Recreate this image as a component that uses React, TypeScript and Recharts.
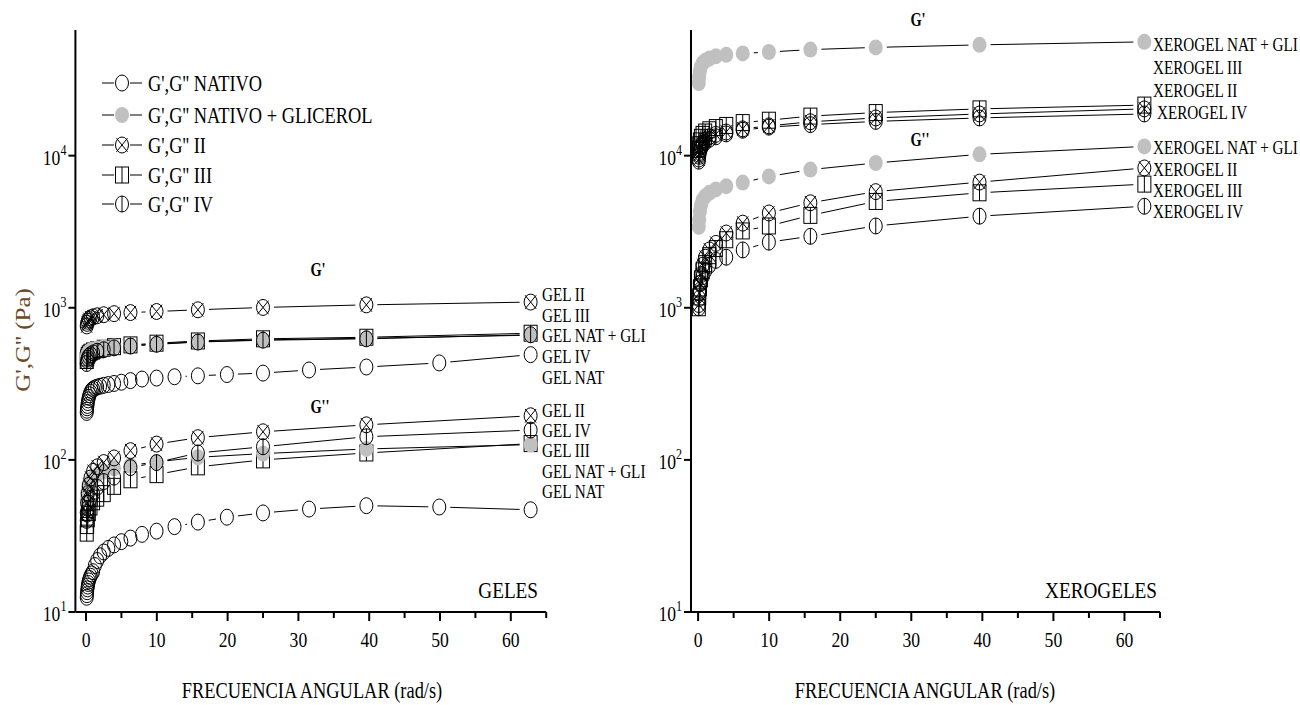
import React from 'react';
import { ScatterChart, Scatter, XAxis, YAxis } from 'recharts';

const SERIF = "'Liberation Serif', 'Times New Roman', serif";
const SQUEEZE = 0.8;

// angular frequency (rad/s)
const freq5 = [0.0996, 0.158, 0.25, 0.396, 0.628, 0.996, 1.58, 2.5, 3.96, 6.28, 9.96, 15.8, 25, 39.6, 62.8];
const freq10 = [
  0.0996, 0.125, 0.158, 0.199, 0.25, 0.315, 0.396, 0.499, 0.628, 0.791, 0.996, 1.25, 1.58, 1.99, 2.5,
  3.15, 3.96, 4.99, 6.28, 7.91, 9.96, 12.5, 15.8, 19.9, 25, 31.5, 39.6, 49.9, 62.8,
];

// GELES (Pa)
const gelNatG1 = [
  205, 212, 220, 228, 238, 248, 258, 268, 278, 286, 292, 297, 301, 305, 309,
  313, 318, 324, 332, 340, 345, 352, 357, 364, 372, 390, 408, 434, 492,
];
const gelNatG2 = [
  12.5, 13, 13.6, 14.2, 14.8, 15.4, 16, 16.6, 17.2, 17.8, 18.4, 20.2, 21.8, 23.4, 24.8,
  26.2, 27.6, 29, 30.6, 32.4, 34, 36.4, 39, 42, 44.8, 47.5, 50, 49, 47,
];
const gelGliG1 = [470, 485, 500, 512, 522, 532, 540, 548, 556, 565, 578, 598, 615, 630, 660];
const gelGliG2 = [55, 60, 64, 68, 72, 76, 80, 84, 88, 92, 97, 104, 110, 118, 126];
const gelIIG1 = [760, 790, 815, 838, 858, 872, 886, 900, 915, 930, 945, 970, 1005, 1045, 1090];
const gelIIG2 = [45, 52, 60, 68, 76, 84, 90, 96, 103, 115, 127, 140, 153, 170, 195];
const gelIIIG1 = [450, 468, 485, 498, 510, 520, 530, 542, 555, 570, 585, 605, 625, 640, 680];
const gelIIIG2 = [33, 37, 41, 45, 49, 53, 56, 60, 67, 74, 80, 90, 100, 111, 128];
const gelIVG1 = [430, 450, 466, 480, 492, 505, 518, 530, 545, 560, 575, 595, 612, 625, 665];
const gelIVG2 = [40, 44, 48, 52, 56, 60, 66, 72, 77, 89, 96, 111, 122, 142, 157];

// XEROGELES (Pa)
const xeroGliG1 = [30000, 33000, 36000, 38500, 40500, 42000, 43500, 45000, 46000, 47000, 48000, 49800, 51500, 53500, 56000];
const xeroGliG2 = [3400, 3800, 4300, 4700, 5100, 5400, 5700, 6000, 6300, 6650, 7300, 8100, 8950, 10200, 11500];
const xeroIIG1 = [9500, 10200, 10900, 11500, 12100, 12700, 13300, 13800, 14300, 15000, 15700, 16700, 17700, 18800, 20300];
const xeroIIG2 = [1050, 1250, 1450, 1650, 1900, 2150, 2400, 2650, 3100, 3600, 4200, 4900, 5800, 6700, 8300];
const xeroIIIG1 = [11000, 11800, 12500, 13200, 13800, 14300, 14800, 15300, 15800, 16500, 17100, 18200, 19200, 20300, 21500];
const xeroIIIG2 = [1000, 1180, 1350, 1550, 1750, 1950, 2200, 2450, 2800, 3200, 3450, 4050, 5000, 5700, 6500];
const xeroIVG1 = [9200, 9900, 10500, 11100, 11700, 12200, 12800, 13300, 13900, 14700, 15400, 16000, 16800, 17700, 18800];
const xeroIVG2 = [1000, 1150, 1300, 1450, 1600, 1750, 1900, 2050, 2150, 2400, 2700, 2950, 3450, 4000, 4650];

const xTicks = [0, 5, 10, 15, 20, 25, 30, 35, 40, 45, 50, 55, 60, 65];
const yTicks = [10, 100, 1000, 10000];

const legendNames = ["G',G'' NATIVO", "G',G'' NATIVO + GLICEROL", "G',G'' II", "G',G'' III", "G',G'' IV"];
const legendKinds = ['nat', 'gli', 'ii', 'iii', 'iv'];
const gelTagsG1 = ['GEL II', 'GEL III', 'GEL NAT + GLI', 'GEL IV', 'GEL NAT'];
const gelTagsG2 = ['GEL II', 'GEL IV', 'GEL III', 'GEL NAT + GLI', 'GEL NAT'];
const xeroTagsG1 = ['XEROGEL NAT + GLI', 'XEROGEL III', 'XEROGEL II', 'XEROGEL IV'];
const xeroTagsG2 = ['XEROGEL NAT + GLI', 'XEROGEL II', 'XEROGEL III', 'XEROGEL IV'];

const pts = (xs: number[], ys: number[]) => xs.map((x, i) => ({ x, y: ys[i] }));

type Series = { kind: string; data: { x: number; y: number }[] };

const gelSeries: Series[] = [
  { kind: 'nat', data: pts(freq10, gelNatG1) },
  { kind: 'nat', data: pts(freq10, gelNatG2) },
  { kind: 'iii', data: pts(freq5, gelIIIG1) },
  { kind: 'iii', data: pts(freq5, gelIIIG2) },
  { kind: 'gli', data: pts(freq5, gelGliG1) },
  { kind: 'gli', data: pts(freq5, gelGliG2) },
  { kind: 'iv', data: pts(freq5, gelIVG1) },
  { kind: 'iv', data: pts(freq5, gelIVG2) },
  { kind: 'ii', data: pts(freq5, gelIIG1) },
  { kind: 'ii', data: pts(freq5, gelIIG2) },
];

const xeroSeries: Series[] = [
  { kind: 'gli', data: pts(freq5, xeroGliG1) },
  { kind: 'gli', data: pts(freq5, xeroGliG2) },
  { kind: 'iii', data: pts(freq5, xeroIIIG1) },
  { kind: 'iii', data: pts(freq5, xeroIIIG2) },
  { kind: 'iv', data: pts(freq5, xeroIVG1) },
  { kind: 'iv', data: pts(freq5, xeroIVG2) },
  { kind: 'ii', data: pts(freq5, xeroIIG1) },
  { kind: 'ii', data: pts(freq5, xeroIIG2) },
];

const RX = 6.5;
const RY = 8;
const GAP = 11;

function Marker({ kind, cx, cy }: { kind: string; cx: number; cy: number }) {
  const ink = { stroke: '#000', strokeWidth: 1, fill: 'none' };
  const dx = RX * 0.85;
  const dy = RY * 0.85;
  if (kind === 'gli') return <ellipse cx={cx} cy={cy} rx={RX + 0.5} ry={RY} fill="#c0c0c0" />;
  if (kind === 'ii')
    return (
      <g>
        <ellipse cx={cx} cy={cy} rx={RX} ry={RY} {...ink} />
        <path d={`M${cx - dx},${cy - dy}L${cx + dx},${cy + dy}M${cx + dx},${cy - dy}L${cx - dx},${cy + dy}`} {...ink} />
      </g>
    );
  if (kind === 'iii')
    return (
      <g>
        <rect x={cx - RX} y={cy - RY} width={RX * 2} height={RY * 2} {...ink} />
        <line x1={cx} x2={cx} y1={cy - RY} y2={cy + RY} {...ink} />
      </g>
    );
  if (kind === 'iv')
    return (
      <g>
        <ellipse cx={cx} cy={cy} rx={RX} ry={RY} {...ink} />
        <line x1={cx} x2={cx} y1={cy - RY} y2={cy + RY} {...ink} />
      </g>
    );
  return <ellipse cx={cx} cy={cy} rx={RX} ry={RY} {...ink} />;
}

// connecting line that stops short of each marker, like Origin does
function gapLine(props: any) {
  const p = props.points || [];
  let d = '';
  for (let i = 0; i < p.length - 1; i++) {
    const ax = p[i].x, ay = p[i].y, bx = p[i + 1].x, by = p[i + 1].y;
    const len = Math.hypot(bx - ax, by - ay);
    if (len <= GAP * 2 + 1) continue;
    const ux = (bx - ax) / len;
    const uy = (by - ay) / len;
    d += `M${ax + ux * GAP},${ay + uy * GAP}L${bx - ux * GAP},${by - uy * GAP}`;
  }
  return <path d={d} stroke="#000" strokeWidth={1} fill="none" />;
}

const renderXTick = (p: any) => {
  const v = p.payload.value;
  const major = v % 10 === 0;
  return (
    <g>
      <line x1={p.x} x2={p.x} y1={p.y} y2={p.y + (major ? 9 : 6)} stroke="#000" strokeWidth={2} />
      {major && (
        <text transform={`translate(${p.x},${p.y + 35}) scale(${SQUEEZE},1)`} textAnchor="middle" fontSize={22} fontFamily={SERIF} fill="#000">
          {v}
        </text>
      )}
    </g>
  );
};

const renderYTick = (p: any) => {
  const exp = Math.round(Math.log10(p.payload.value));
  return (
    <g>
      <line x1={p.x - 7} x2={p.x} y1={p.y} y2={p.y} stroke="#000" strokeWidth={2} />
      <text transform={`translate(${p.x - 9},${p.y + 9}) scale(${SQUEEZE},1)`} textAnchor="end" fontSize={22} fontFamily={SERIF} fill="#000">
        10<tspan dy={-10} fontSize={15}>{exp}</tspan>
      </text>
    </g>
  );
};

type PanelProps = {
  left: number;
  width: number;
  marginLeft: number;
  marginRight: number;
  xDomain: [number, number];
  series: Series[];
};

const Panel = ({ left, width, marginLeft, marginRight, xDomain, series }: PanelProps) => (
  <div style={{ position: 'absolute', left, top: 0 }}>
    <ScatterChart width={width} height={705} margin={{ top: 30, right: marginRight, bottom: 63, left: marginLeft }}>
      <XAxis
        type="number"
        dataKey="x"
        domain={xDomain}
        allowDataOverflow
        ticks={xTicks}
        interval={0}
        tick={renderXTick}
        tickLine={false}
        tickSize={0}
        tickMargin={0}
        height={30}
        axisLine={{ stroke: '#000', strokeWidth: 2 }}
      />
      <YAxis
        type="number"
        dataKey="y"
        scale="log"
        domain={[10, 67000]}
        allowDataOverflow
        ticks={yTicks}
        interval={0}
        tick={renderYTick}
        tickLine={false}
        tickSize={0}
        tickMargin={0}
        width={40}
        axisLine={{ stroke: '#000', strokeWidth: 2 }}
      />
      {series.map((s, i) => (
        <Scatter
          key={i}
          data={s.data}
          line={gapLine}
          shape={(p: any) => <Marker kind={s.kind} cx={p.cx} cy={p.cy} />}
          isAnimationActive={false}
        />
      ))}
    </ScatterChart>
  </div>
);

const Txt = ({ x, y, size, anchor = 'start', weight = 'normal', fill = '#000', children }: any) => (
  <text
    transform={`translate(${x},${y}) scale(${SQUEEZE},1)`}
    fontSize={size}
    textAnchor={anchor}
    fontWeight={weight}
    fill={fill}
    fontFamily={SERIF}
  >
    {children}
  </text>
);

const gelRowsG1 = [295, 316, 336, 357, 378];
const gelRowsG2 = [411, 431, 451, 472, 492];
const xeroRowsG1 = [45, 68, 91, 113];
const xeroRowsG2 = [148, 170, 191, 212];
const legendRows = [83, 115, 145, 175, 204];

const Overlay = () => (
  <svg width={1300} height={705} style={{ position: 'absolute', left: 0, top: 0, pointerEvents: 'none' }}>
    {legendNames.map((name, i) => {
      const y = legendRows[i];
      return (
        <g key={name}>
          <line x1={102} x2={114} y1={y} y2={y} stroke="#000" strokeWidth={1} />
          <line x1={130} x2={142} y1={y} y2={y} stroke="#000" strokeWidth={1} />
          <Marker kind={legendKinds[i]} cx={122} cy={y} />
          <Txt x={148} y={y + 8} size={23}>{name}</Txt>
        </g>
      );
    })}

    <Txt x={318} y={276} size={18} anchor="middle" weight="bold">G'</Txt>
    <Txt x={320} y={413} size={18} anchor="middle" weight="bold">G''</Txt>
    <Txt x={918} y={26} size={18} anchor="middle" weight="bold">G'</Txt>
    <Txt x={920} y={146} size={18} anchor="middle" weight="bold">G''</Txt>

    {gelTagsG1.map((t, i) => (
      <Txt key={'a' + i} x={542} y={gelRowsG1[i] + 6} size={19}>{t}</Txt>
    ))}
    {gelTagsG2.map((t, i) => (
      <Txt key={'b' + i} x={542} y={gelRowsG2[i] + 6} size={19}>{t}</Txt>
    ))}
    {xeroTagsG1.map((t, i) => (
      <Txt key={'c' + i} x={i === 3 ? 1157 : 1153} y={xeroRowsG1[i] + 6} size={19}>{t}</Txt>
    ))}
    {xeroTagsG2.map((t, i) => (
      <Txt key={'d' + i} x={1153} y={xeroRowsG2[i] + 6} size={19}>{t}</Txt>
    ))}

    <Txt x={538} y={598} size={24} anchor="end">GELES</Txt>
    <Txt x={1157} y={598} size={24} anchor="end">XEROGELES</Txt>

    <Txt x={312} y={698} size={23} anchor="middle">FRECUENCIA ANGULAR (rad/s)</Txt>
    <Txt x={925} y={698} size={23} anchor="middle">FRECUENCIA ANGULAR (rad/s)</Txt>

    <text
      transform={`translate(30,340) scale(${SQUEEZE},1) rotate(-90)`}
      fontSize={25}
      textAnchor="middle"
      fill="#6b4a2a"
      fontFamily={SERIF}
    >
      G',G'' (Pa)
    </text>
  </svg>
);

export default function App() {
  return (
    <div style={{ position: 'absolute', left: 0, top: 0, width: 1300, height: 705, background: '#fff' }}>
      <Panel left={0} width={650} marginLeft={35.4} marginRight={103.8} xDomain={[-1.5, 65]} series={gelSeries} />
      <Panel left={600} width={700} marginLeft={51} marginRight={140} xDomain={[-1, 65]} series={xeroSeries} />
      <Overlay />
    </div>
  );
}
